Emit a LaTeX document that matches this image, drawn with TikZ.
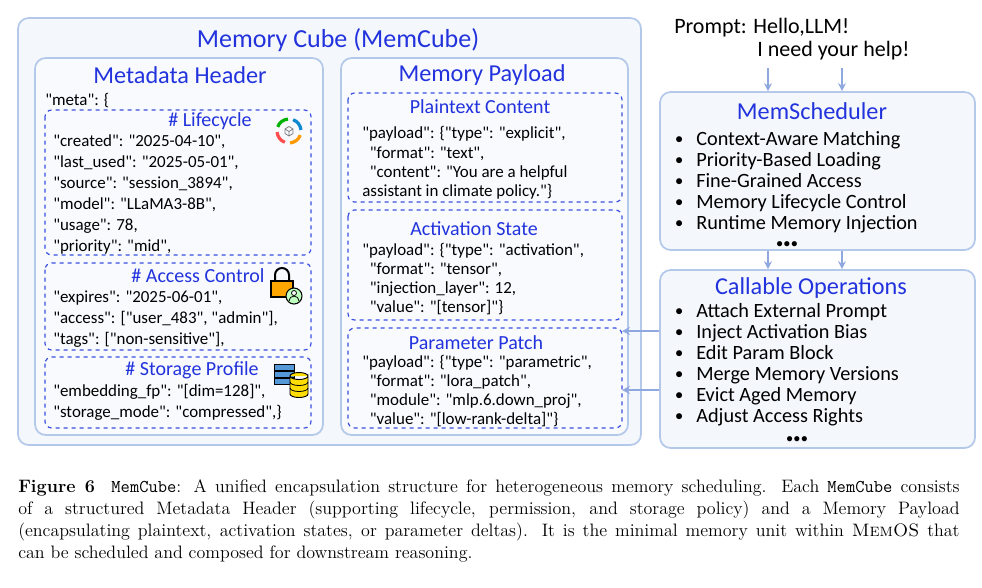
\documentclass[tikz,border=0pt]{standalone}
\usepackage{fontspec}
\newfontfamily\carl{Carlito}
\usetikzlibrary{arrows.meta}
\definecolor{tblue}{HTML}{2233DD}
\definecolor{dblue}{HTML}{3A4FE0}
\definecolor{bord}{HTML}{B4C8EA}
\definecolor{bfill}{HTML}{F4F7FC}
\definecolor{arr}{HTML}{8FA8E0}
\tikzset{
 panel/.style={draw=bord,line width=1.3pt,fill=bfill,rounded corners=8pt},
 dbox/.style={draw=dblue,dashed,line width=0.9pt,rounded corners=5pt},
 ttl/.style={text=tblue,font=\carl\fontsize{18.2}{20}\selectfont},
 sub/.style={text=tblue,font=\carl\fontsize{15}{16}\selectfont},
 txt/.style={anchor=base west,font=\carl\fontsize{12.7}{15}\selectfont,inner sep=0pt},
 itm/.style={anchor=base west,font=\carl\fontsize{15.2}{16}\selectfont,inner sep=0pt},
 captxt/.style={anchor=west,inner sep=0pt,font=\fontsize{13.5}{16}\selectfont},
 ar/.style={-{Stealth[length=6pt,width=6pt]},draw=arr,line width=1.4pt},
}
\begin{document}
\begin{tikzpicture}[x=0.75pt,y=-0.75pt]
\useasboundingbox (0,0) rectangle (982,587);
% outer
\draw[panel] (18,18) rectangle (641,445);
\node[ttl,font=\carl\fontsize{19.5}{22}\selectfont] (mc) at (338,40) {Memory Cube (MemCube)};
\draw[panel,fill=bfill!60!white] (35,58) rectangle (323,435);
\node[ttl] (mh) at (180,75) {Metadata Header};
\draw[panel,fill=bfill!60!white] (341,58) rectangle (628,435);
\node[ttl] (mp) at (482,75) {Memory Payload};
% left
\node[txt] (meta) at (45,105) {"meta": \{};
\draw[dbox] (45,110) rectangle (311,255);
\node[sub] (lc) at (210,121) {\# Lifecycle};
\node[txt] at (53,146) {"created": "2025-04-10",};
\node[txt] at (53,167) {"last\_used": "2025-05-01",};
\node[txt] at (53,188) {"source": "session\_3894",};
\node[txt] at (53,209) {"model": "LLaMA3-8B",};
\node[txt] at (53,230) {"usage": 78,};
\node[txt] at (53,251) {"priority": "mid",};
% lifecycle icon
\begin{scope}[shift={(289,131)}]
\draw[line width=2.4pt,green!70!black] (0,0) ++(200:12) arc (200:265:12);
\draw[line width=2.4pt,cyan!70!blue] (0,0) ++(290:12) arc (290:355:12);
\draw[line width=2.4pt,orange!80!yellow] (0,0) ++(20:12) arc (20:85:12);
\draw[line width=2.4pt,red!70] (0,0) ++(110:12) arc (110:175:12);
\draw[gray,line width=0.6pt] (-4,-2) -- (0,-4.5) -- (4,-2) -- (4,2.5) -- (0,5) -- (-4,2.5) -- cycle (-4,-2) -- (0,0.5) -- (4,-2) (0,0.5) -- (0,5);
\end{scope}
\draw[dbox] (45,263) rectangle (311,350);
\node[sub] (ac) at (198,276) {\# Access Control};
\node[txt] at (53,302) {"expires": "2025-06-01",};
\node[txt] at (53,323) {"access": ["user\_483", "admin"],};
\node[txt] at (53,344) {"tags": ["non-sensitive"],};
% lock icon
\begin{scope}[shift={(282,285)}]
\draw[line width=1.5pt] (-7,-4) -- (-7,-10) arc (180:360:7) -- (7,-4);
\draw[fill=orange!70!yellow,draw=black,line width=0.8pt] (-11,-4) rectangle (11,12);
\draw[fill=green!25,draw=black,line width=0.8pt] (12,11) circle (8);
\draw[fill=white,line width=0.6pt] (12,8) circle (2.5);
\draw[line width=0.6pt] (7,16) arc (180:360:5);
\end{scope}
\draw[dbox] (45,357) rectangle (311,428);
\node[sub] (sp) at (192,370) {\# Storage Profile};
\node[txt] at (53,396) {"embedding\_fp": "[dim=128]",};
\node[txt] at (53,417) {"storage\_mode": "compressed",\}};
% db icon
\begin{scope}[shift={(290,378)}]
\foreach \yy in {-14,-7,0}{\draw[fill=cyan!60!blue!70,draw=black,line width=0.6pt] (-16,\yy) rectangle (4,\yy+6);}
\draw[fill=yellow!80!orange,draw=black,line width=0.7pt] (0,-2) -- (0,16) arc (180:0:9 and 3.5) -- (18,-2) arc (0:360:9 and 3.5);
\draw[line width=0.6pt] (0,4) arc (180:0:9 and 3.5) (0,10) arc (180:0:9 and 3.5);
\end{scope}
% right payloads
\draw[dbox] (348,93) rectangle (622,202);
\node[sub] (pc) at (480,107) {Plaintext Content};
\node[txt] at (362,138) {"payload": \{"type": "explicit",};
\node[txt] at (362,158) {\ \ "format": "text",};
\node[txt] at (362,177) {\ \ "content": "You are a helpful};
\node[txt] at (362,196) {assistant in climate policy."\}};
\draw[dbox] (348,210) rectangle (622,320);
\node[sub] (as) at (474,229) {Activation State};
\node[txt] at (362,255) {"payload": \{"type": "activation",};
\node[txt] at (362,274) {\ \ "format": "tensor",};
\node[txt] at (362,293) {\ \ "injection\_layer": 12,};
\node[txt] at (362,312) {\ \ "value": "[tensor]"\}};
\draw[dbox] (348,328) rectangle (622,428);
\node[sub] (pp) at (476,343) {Parameter Patch};
\node[txt] at (362,367) {"payload": \{"type": "parametric",};
\node[txt] at (362,386) {\ \ "format": "lora\_patch",};
\node[txt] at (362,405) {\ \ "module": "mlp.6.down\_proj",};
\node[txt] at (362,424) {\ \ "value": "[low-rank-delta]"\}};
\coordinate (pp1) at (622,331);
\coordinate (pp2) at (622,390);
% prompt
\node[anchor=west,font=\carl\fontsize{16.5}{19}\selectfont,inner sep=0pt] (p1) at (674,28) {Prompt: Hello,LLM!};
\node[anchor=west,font=\carl\fontsize{16.5}{19}\selectfont,inner sep=0pt] (p2) at (757,51) {I need your help!};
% scheduler
\node[panel,minimum width=315*0.75pt,minimum height=158*0.75pt,inner sep=0pt] (ms) at (817.5,171) {};
\node[ttl] at (812,111) {MemScheduler};
\foreach \t [count=\i] in {Context-Aware Matching,Priority-Based Loading,Fine-Grained Access,Memory Lifecycle Control,Runtime Memory Injection}{
 \node[itm] at (675,124+21*\i) {\raisebox{1pt}{\scalebox{0.8}{$\bullet$}}\hspace{10pt}\t};}
\node[font=\bfseries] at (787,245) {$\bullet\!\bullet\!\bullet$};
\node[panel,minimum width=315*0.75pt,minimum height=178*0.75pt,inner sep=0pt] (co) at (817.5,359) {};
\node[ttl] at (811,288) {Callable Operations};
\foreach \t [count=\i] in {Attach External Prompt,Inject Activation Bias,Edit Param Block,Merge Memory Versions,Evict Aged Memory,Adjust Access Rights}{
 \node[itm] at (675,296+21*\i) {\raisebox{1pt}{\scalebox{0.8}{$\bullet$}}\hspace{10pt}\t};}
\node[font=\bfseries] at (797,440) {$\bullet\!\bullet\!\bullet$};
% arrows
\draw[ar] (768,68) -- (ms.north -| 768,0);
\draw[ar] (842,68) -- (ms.north -| 842,0);
\draw[ar] (ms.south -| 768,0) -- (co.north -| 768,0);
\draw[ar] (ms.south -| 842,0) -- (co.north -| 842,0);
\draw[ar] (co.west |- pp1) -- (pp1);
\draw[ar] (co.west |- pp2) -- (pp2);
% caption
\node[captxt] (c1) at (18,488) {\makebox[706pt][s]{\textbf{Figure 6}\ \ \texttt{MemCube}: A unified encapsulation structure for heterogeneous memory scheduling. Each \texttt{MemCube} consists}};
\node[captxt] (c2) at (18,510) {\makebox[706pt][s]{of a structured Metadata Header (supporting lifecycle, permission, and storage policy) and a Memory Payload}};
\node[captxt] (c3) at (18,532) {\makebox[706pt][s]{(encapsulating plaintext, activation states, or parameter deltas). It is the minimal memory unit within \textsc{MemOS} that}};
\node[captxt] (c4) at (18,554) {can be scheduled and composed for downstream reasoning.};
\end{tikzpicture}
\end{document}
